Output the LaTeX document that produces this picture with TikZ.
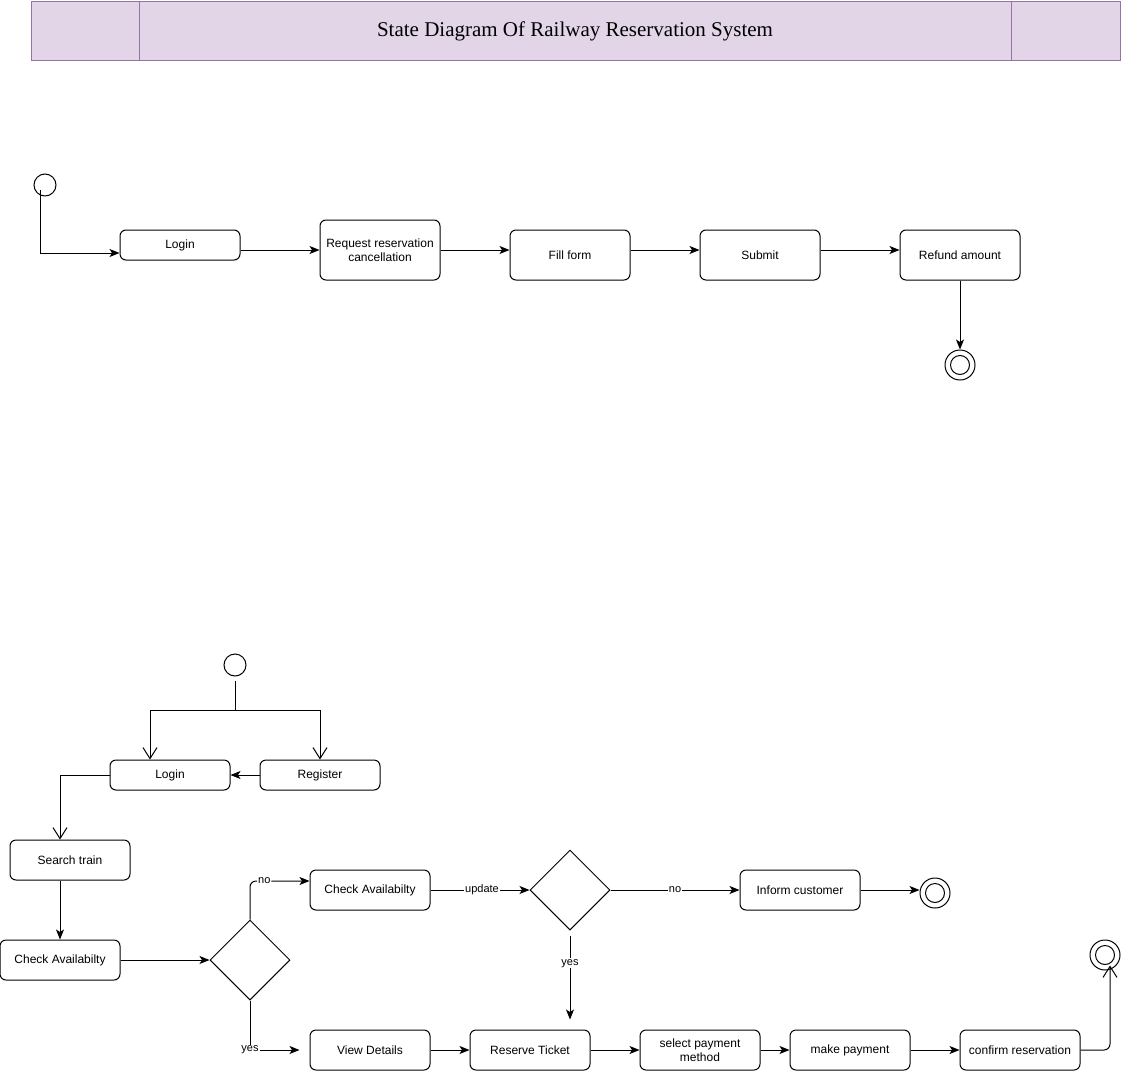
\documentclass[tikz,border=0pt]{standalone}
\usepackage{fontspec}
\setmainfont{Liberation Sans}
\newfontfamily\headfont{Liberation Serif}
\usetikzlibrary{arrows.meta,shapes.geometric}
\definecolor{bandfill}{HTML}{E1D5E7}
\definecolor{bandline}{HTML}{9673A6}
\begin{document}
\begin{tikzpicture}[x=1pt,y=-1pt,line width=1pt,
  state/.style={draw,rounded corners=6pt,minimum width=120pt,minimum height=40pt,
    inner sep=0pt,align=center,font=\fontsize{12}{14}\selectfont},
  slim/.style={state,minimum height=30pt},
  choice/.style={draw,diamond,minimum width=80pt,minimum height=80pt,inner sep=0pt},
  initial/.style={draw,circle,minimum size=22pt,inner sep=0pt},
  final/.style={draw,circle,minimum size=30pt,inner sep=0pt,
    path picture={\draw (path picture bounding box.center) circle (9.5pt);}},
  arr/.style={-{Stealth[length=10pt,width=8pt,inset=2.5pt]}},
  openarr/.style={-{Straight Barb[length=11pt,width=14pt]}},
  lbl/.style={fill=white,inner sep=1pt,font=\fontsize{11}{12}\selectfont}]
\useasboundingbox (0,0) rectangle (1125,1071);

% title band
\node[draw=bandline,fill=bandfill,minimum width=1089pt,minimum height=59pt,inner sep=0pt]
  (band) at (575.5,30.5) {};
\draw[bandline] (139,1) -- (139,60);
\draw[bandline] (1011,1) -- (1011,60);
\node[font=\headfont\fontsize{21}{24}\selectfont] (title) at (575,31)
  {State Diagram Of Railway Reservation System};

% cancellation flow
\node[initial] (s1) at (45,185) {};
\node[slim] (login1) at (180,245) {Login};
\node[state,minimum height=60pt] (req) at (380,250) {Request reservation\\cancellation};
\node[state,minimum height=50pt] (fill) at (570,255) {Fill form};
\node[state,minimum height=50pt] (sub) at (760,255) {Submit};
\node[state,minimum height=50pt] (ref) at (960,255) {Refund amount};
\node[final] (f1) at (960,365) {};

\draw[arr] ([xshift=-5pt,yshift=-5pt]s1.center) |- ([yshift=-8pt]login1.west);
\draw[arr] (login1.east |- req.west) -- (req.west);
\draw[arr] ([yshift=5pt]fill.east -| req.east) -- ([yshift=5pt]fill.west);
\draw[arr] ([yshift=5pt]fill.east) -- ([yshift=5pt]sub.west);
\draw[arr] ([yshift=5pt]sub.east) -- ([yshift=5pt]ref.west);
\draw[arr] (ref.south) -- (f1.north);

% reservation flow
\node[initial] (s2) at (235,665) {};
\coordinate (fork) at (235,710);
\node[slim] (login2) at (170,775) {Login};
\node[slim] (reg) at (320,775) {Register};
\node[state] (search) at (70,860) {Search train};
\node[state] (chk1) at (60,960) {Check Availabilty};
\node[choice] (d1) at (250,960) {};
\node[state] (chk2) at (370,890) {Check Availabilty};
\node[choice] (d2) at (570,890) {};
\node[state] (inform) at (800,890) {Inform customer};
\node[final] (f2) at (935,893) {};
\node[state] (view) at (370,1050) {View Details};
\node[state] (rt) at (530,1050) {Reserve Ticket};
\node[state] (pay) at (700,1050) {select payment\\method};
\node[state] (make) at (850,1050) {make payment};
\node[state] (conf) at (1020,1050) {confirm reservation};
\node[final] (f3) at (1105,955) {};

\draw ([yshift=-4pt]s2.south) -- (fork);
\draw[openarr] (fork) -| ([xshift=-20pt]login2.north);
\draw[openarr] (fork) -| (reg.north);
\draw[arr] (reg.west) -- (login2.east);
\draw[openarr] (login2.west) -| ([xshift=-10pt]search.north);
\draw[arr] ([xshift=-10pt]search.south) -- (chk1.north);
\draw[arr] (chk1.east) -- (d1.west);
\draw[arr,rounded corners=6pt] (d1.north) |- ([yshift=9pt]chk2.west)
  node[lbl,pos=0.62] {no};
\draw[arr] (chk2.east) -- (d2.west) node[lbl,pos=0.52] {update};
\draw[arr] (d2.east) -- (inform.west) node[lbl,midway] {no};
\draw[arr] (inform.east) -- (inform.east -| f2.west);
\draw[arr] ([yshift=-5pt]d2.south) -- ([yshift=10pt]rt.north -| d2.south)
  node[lbl,pos=0.33] {yes};
\draw[arr] (d1.south) |- ([xshift=-10pt]view.west) node[lbl,pos=0.5] {yes};
\draw[arr] (view.east) -- (rt.west);
\draw[arr] (rt.east) -- (pay.west);
\draw[arr] (pay.east) -- (make.west);
\draw[arr] (make.east) -- (conf.west);
\draw[openarr,rounded corners=6pt] (conf.east) -| ([xshift=5pt,yshift=5pt]f3.south);
\end{tikzpicture}
\end{document}
